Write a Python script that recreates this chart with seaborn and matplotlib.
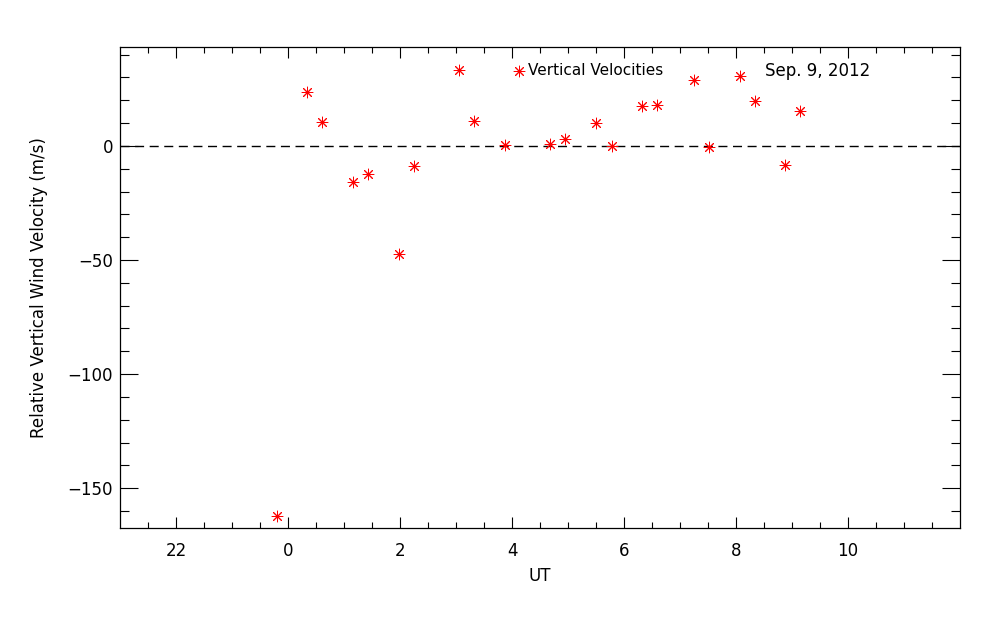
import matplotlib
matplotlib.use('Agg')
import matplotlib.pyplot as plt
import seaborn as sns
import pandas as pd

# UT hours (negative = previous day) and relative vertical wind velocity (m/s)
ut = [-0.20, 0.34, 0.61, 1.16, 1.43, 1.98, 2.25, 3.05, 3.32, 3.87, 4.68,
      4.95, 5.50, 5.78, 6.32, 6.59, 7.25, 7.52, 8.07, 8.34, 8.87, 9.14]
velocity = [-162.3, 23.6, 10.5, -15.8, -12.3, -47.2, -8.8, 33.3, 10.9, 0.4, 0.8,
            3.1, 10.1, -0.1, 17.4, 18.1, 28.9, -0.6, 30.4, 19.7, -8.6, 15.1]

xtick_pos = [-2, 0, 2, 4, 6, 8, 10]
xtick_labels = ['22', '0', '2', '4', '6', '8', '10']
ytick_pos = [-150, -100, -50, 0]

df = pd.DataFrame({'UT': ut, 'v': velocity})

sns.set_theme(style='ticks')
plt.rcParams['font.family'] = ['DejaVu Sans']
plt.rcParams['text.color'] = 'black'
plt.rcParams['axes.labelcolor'] = 'black'

fig = plt.figure(figsize=(10, 6.25), dpi=100)
ax = fig.add_axes([0.12, 1 - 528 / 625, 0.84, (528 - 47) / 625])

ax.axhline(0, color='black', lw=1, ls=(0, (6.5, 4.0)), zorder=1)
sns.scatterplot(data=df, x='UT', y='v', ax=ax, marker=(8, 2, 0), s=60,
                color='red', edgecolor='red', linewidth=0.7,
                label='Vertical Velocities', zorder=3)

ax.set_xlim(-3, 12)
ax.set_ylim(-167.4, 43.3)
ax.set_xticks(xtick_pos)
ax.set_xticklabels(xtick_labels)
ax.set_xticks([v / 2 for v in range(-5, 24)], minor=True)
ax.set_yticks(ytick_pos)
ax.set_yticks(list(range(-160, 41, 10)), minor=True)

for s in ax.spines.values():
    s.set_visible(True)
    s.set_linewidth(0.9)
    s.set_color('black')

ax.tick_params(axis='both', which='both', direction='in', top=True, right=True,
               color='black', width=0.8, labelsize=12, labelcolor='black')
ax.tick_params(axis='x', which='major', length=8, pad=10)
ax.tick_params(axis='x', which='minor', length=4)
ax.tick_params(axis='y', which='major', length=12.7, pad=5)
ax.tick_params(axis='y', which='minor', length=6.5)

ax.set_xlabel('UT', fontsize=12, labelpad=5)
ax.set_ylabel('Relative Vertical Wind Velocity (m/s)', fontsize=12, labelpad=14)

leg = ax.legend(loc='center left', bbox_to_anchor=(0.467, 0.951), frameon=False,
                handlelength=0.9, handletextpad=0.1, borderpad=0, borderaxespad=0,
                fontsize=11, markerscale=1.0)
for t in leg.get_texts():
    t.set_color('black')
ax.text(0.768, 0.951, 'Sep. 9, 2012', transform=ax.transAxes, fontsize=12,
        color='black', ha='left', va='center')

fig.savefig('out.png', dpi=100, facecolor='white')
